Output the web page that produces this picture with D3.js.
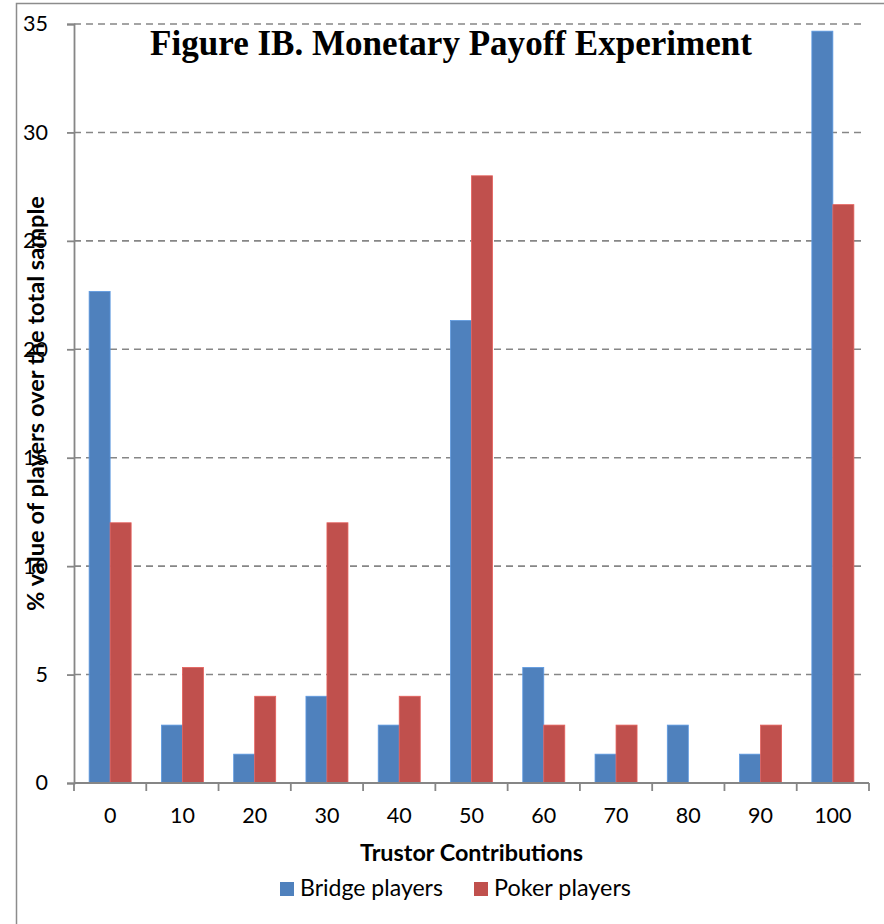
<!DOCTYPE html>
<html>
<head>
<meta charset="utf-8">
<script src="https://cdn.jsdelivr.net/npm/d3@7"></script>
<style>
  html, body { margin: 0; padding: 0; background: #fff; }
  svg { display: block; }
</style>
</head>
<body>
<svg id="chart" width="884" height="924"></svg>
<script>
// ---- data ----
const categories = ["0", "10", "20", "30", "40", "50", "60", "70", "80", "90", "100"];
const seriesNames = ["Bridge players", "Poker players"];
const bridgeValues = [22.67, 2.67, 1.33, 4, 2.67, 21.33, 5.33, 1.33, 2.67, 1.33, 34.67];
const pokerValues  = [12, 5.33, 4, 12, 4, 28, 2.67, 2.67, 0, 2.67, 26.67];
const yTicks = [0, 5, 10, 15, 20, 25, 30, 35];
const titleText = "Figure IB. Monetary Payoff Experiment";
const xTitle = "Trustor Contributions";
const yTitle = "% value of players over the total sample";

const colors = ["#4F81BD", "#C0504D"];
const seriesValues = [bridgeValues, pokerValues];

const svg = d3.select("#chart");
const plotLeft = 74, plotRight = 869, plotTop = 24, plotBottom = 783;
const tickFont = 21.5;

function fit(sel, target) {
  const node = sel.node();
  const fs = parseFloat(sel.attr("font-size"));
  const w = node.getComputedTextLength();
  if (w > 0) sel.attr("font-size", (fs * target / w).toFixed(2));
  return sel;
}

// frame
svg.append("rect")
  .attr("x", 16.5).attr("y", 3.5).attr("width", 900).attr("height", 940)
  .attr("fill", "none").attr("stroke", "#8c8c8c").attr("stroke-width", 1.5);

const x = d3.scaleBand().domain(categories).range([plotLeft, plotRight]).padding(0);
const xs = d3.scaleBand().domain(seriesNames).range([0, x.bandwidth()])
  .paddingInner(0).paddingOuter(0.72);
const y = d3.scaleLinear().domain([0, 35]).range([plotBottom, plotTop]);

// gridlines
svg.append("g").selectAll("line")
  .data(yTicks.filter(d => d > 0))
  .join("line")
  .attr("x1", plotLeft).attr("x2", 864)
  .attr("y1", d => y(d)).attr("y2", d => y(d))
  .attr("stroke", "#868686").attr("stroke-width", 1.6)
  .attr("stroke-dasharray", "7,5");

// bars
const g = svg.append("g");
seriesNames.forEach((s, si) => {
  g.append("g").selectAll("rect")
    .data(categories.map((c, i) => ({ c, v: seriesValues[si][i] })))
    .join("rect")
    .attr("x", d => x(d.c) + xs(s))
    .attr("width", xs.bandwidth())
    .attr("y", d => y(d.v))
    .attr("height", d => y(0) - y(d.v))
    .attr("fill", colors[si])
    .attr("stroke", d => d.v > 0 ? d3.color(colors[si]).brighter(0.5) : "none")
    .attr("stroke-width", 0.8);
});

// y axis
const yAxis = d3.axisLeft(y).tickValues(yTicks).tickSize(7).tickPadding(19).tickFormat(d3.format("d"));
const yg = svg.append("g").attr("transform", `translate(${plotLeft},0)`).call(yAxis);
yg.select(".domain").attr("stroke", "#868686").attr("stroke-width", 1.8);
yg.selectAll(".tick line").attr("stroke", "#868686").attr("stroke-width", 1.8);
yg.selectAll(".tick text").attr("font-family", "Lato, sans-serif").attr("font-size", tickFont).attr("fill", "#000");

// x axis: ticks at category boundaries
const xAxisG = svg.append("g").attr("transform", `translate(0,${plotBottom})`);
xAxisG.append("line").attr("x1", plotLeft).attr("x2", plotRight).attr("y1", 0).attr("y2", 0)
  .attr("stroke", "#868686").attr("stroke-width", 1.8);
const boundaries = categories.map(c => x(c)).concat([x(categories[categories.length - 1]) + x.bandwidth()]);
xAxisG.selectAll("line.tk").data(boundaries).join("line").attr("class", "tk")
  .attr("x1", d => d).attr("x2", d => d).attr("y1", 0).attr("y2", 8)
  .attr("stroke", "#868686").attr("stroke-width", 1.8);
xAxisG.selectAll("text").data(categories).join("text")
  .attr("x", d => x(d) + x.bandwidth() / 2).attr("y", 40)
  .attr("text-anchor", "middle")
  .attr("font-family", "Lato, sans-serif").attr("font-size", tickFont).attr("fill", "#000")
  .text(d => d);

// title
fit(svg.append("text").attr("x", 451).attr("y", 55).attr("text-anchor", "middle")
  .attr("font-family", "'Liberation Serif', 'Times New Roman', serif").attr("font-weight", "bold")
  .attr("font-size", 33).attr("fill", "#000").text(titleText), 602);

// x title
fit(svg.append("text").attr("x", (plotLeft + plotRight) / 2).attr("y", 861).attr("text-anchor", "middle")
  .attr("font-family", "Lato, sans-serif").attr("font-weight", "bold")
  .attr("font-size", 20).attr("fill", "#000").text(xTitle), 223);

// y title
fit(svg.append("text").attr("transform", `translate(44,${(plotTop + plotBottom) / 2}) rotate(-90)`)
  .attr("text-anchor", "middle")
  .attr("font-family", "Lato, sans-serif").attr("font-weight", "bold")
  .attr("font-size", 20).attr("fill", "#000").text(yTitle), 415);

// legend
const legendItems = [
  { name: seriesNames[0], color: colors[0], sx: 280, tx: 300, w: 143 },
  { name: seriesNames[1], color: colors[1], sx: 474, tx: 494, w: 137 }
];
legendItems.forEach(it => {
  svg.append("rect").attr("x", it.sx).attr("y", 882).attr("width", 14).attr("height", 14).attr("fill", it.color);
  fit(svg.append("text").attr("x", it.tx).attr("y", 895.5)
    .attr("font-family", "Lato, sans-serif").attr("font-size", 20).attr("fill", "#000").text(it.name), it.w);
});
</script>
</body>
</html>
